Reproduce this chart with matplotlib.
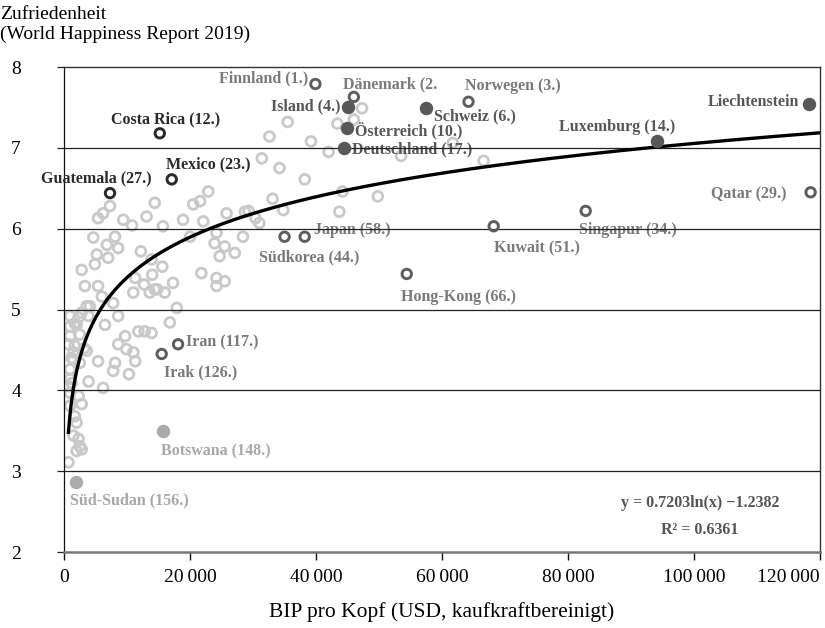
import numpy as np
import matplotlib
matplotlib.use("Agg")
import matplotlib.pyplot as plt
from matplotlib.ticker import FuncFormatter

plt.rcParams['font.family'] = ['Liberation Serif', 'DejaVu Serif']

# unlabelled countries: GDP per capita (USD, PPP) and happiness score
gdp_other = [47300, 35500, 32600, 39200, 42000, 43400, 46000, 31400, 34200, 38200,
             44200, 49800, 33100, 43700, 53500, 61700, 66600,
             25800, 28700, 29300, 31000, 34800, 30400, 22900, 21600, 20500, 18900,
             22100, 20000, 24200, 23900, 25500, 24700, 27100, 28400, 21800, 24200,
             25500, 24200,
             5400, 6200, 7300, 9400, 10800, 13100, 14400, 15700, 4650, 6800, 8100,
             8600, 5200, 4900, 7000, 2800, 12200, 13900, 15600, 14000, 11300, 12700,
             14400, 14800, 13600, 16000, 17300, 11000, 3300, 5400, 6000, 7800, 17900,
             2800, 3600, 4100, 2300, 3900, 6500, 8600, 16800,
             11800, 12800, 13900, 9700, 8600, 9900, 11000, 11300, 8100, 7800, 10300,
             5400, 3900, 6200, 950, 2500, 1700, 3600, 3200, 1200, 2500, 950, 700,
             1200, 950, 1700, 950, 2000, 700, 1500, 1500, 950, 950, 2300, 2800, 950,
             1700, 2000, 1500, 2300, 2500, 2000, 2800, 700]
happy_other = [7.49, 7.32, 7.14, 7.08, 6.95, 7.30, 7.35, 6.87, 6.75, 6.61,
               6.46, 6.40, 6.37, 6.21, 6.90, 7.06, 6.84,
               6.19, 6.21, 6.22, 6.07, 6.23, 6.13, 6.46, 6.34, 6.30, 6.11,
               6.09, 5.90, 5.95, 5.82, 5.78, 5.66, 5.70, 5.90, 5.45, 5.39,
               5.35, 5.29,
               6.13, 6.19, 6.28, 6.11, 6.04, 6.15, 6.32, 6.03, 5.89, 5.80, 5.90,
               5.76, 5.68, 5.56, 5.64, 5.49, 5.72, 5.62, 5.53, 5.43, 5.39, 5.31,
               5.25, 5.25, 5.21, 5.21, 5.33, 5.21, 5.29, 5.29, 5.16, 5.08, 5.02,
               4.96, 5.04, 5.04, 4.90, 4.92, 4.81, 4.92, 4.84,
               4.73, 4.73, 4.71, 4.67, 4.57, 4.51, 4.47, 4.36, 4.34, 4.24, 4.20,
               4.36, 4.11, 4.03, 4.67, 4.69, 4.55, 4.49, 4.52, 4.40, 4.34, 4.26, 4.05,
               4.09, 4.79, 4.83, 4.92, 4.81, 4.57, 4.47, 4.38, 4.14, 3.97, 3.93, 3.83, 3.81,
               3.68, 3.60, 3.44, 3.40, 3.31, 3.25, 3.27, 3.11]

# highlighted countries
names_dark = ["Costa Rica (12.)", "Mexico (23.)", "Guatemala (27.)"]
gdp_dark = [15200, 17100, 7300]
happy_dark = [7.18, 6.61, 6.44]

names_open = ["Finnland (1.)", "Dänemark (2.", "Norwegen (3.)", "Japan (58.)",
              "Südkorea (44.)", "Hong-Kong (66.)", "Kuwait (51.)", "Singapur (34.)",
              "Qatar (29.)", "Iran (117.)", "Irak (126.)"]
gdp_open = [39900, 46000, 64200, 38200, 35000, 54400, 68200, 82800, 118500, 18100, 15500]
happy_open = [7.79, 7.63, 7.57, 5.90, 5.90, 5.44, 6.03, 6.22, 6.45, 4.57, 4.45]

names_filled = ["Island (4.)", "Schweiz (6.)", "Österreich (10.)", "Deutschland (17.)",
                "Luxemburg (14.)", "Liechtenstein"]
gdp_filled = [45000, 57500, 44900, 44500, 94100, 118300]
happy_filled = [7.51, 7.49, 7.25, 7.00, 7.09, 7.54]

names_light = ["Botswana (148.)", "Süd-Sudan (156.)"]
gdp_light = [15700, 1900]
happy_light = [3.50, 2.87]

# logarithmic trend line
coef_a = 0.7203
coef_b = -1.2382
r_squared = 0.6361

# label offsets in pixels (dx, dy, ha)
offsets = {
    "Costa Rica (12.)": (6, 14, "center"),
    "Mexico (23.)": (-6, 15, "left"),
    "Guatemala (27.)": (-14, 15, "center"),
    "Finnland (1.)": (-7, 6, "right"),
    "Dänemark (2.": (-11, 13, "left"),
    "Norwegen (3.)": (-3, 16, "left"),
    "Japan (58.)": (9, 7, "left"),
    "Südkorea (44.)": (-26, -21, "left"),
    "Hong-Kong (66.)": (-6, -23, "left"),
    "Kuwait (51.)": (0, -21, "left"),
    "Singapur (34.)": (-7, -19, "left"),
    "Qatar (29.)": (-24, -2, "right"),
    "Iran (117.)": (8, 2, "left"),
    "Irak (126.)": (2, -18, "left"),
    "Island (4.)": (-7, 0, "right"),
    "Schweiz (6.)": (8, -8, "left"),
    "Österreich (10.)": (8, -3, "left"),
    "Deutschland (17.)": (8, -2, "left"),
    "Luxemburg (14.)": (18, 14, "right"),
    "Liechtenstein": (-10, 2, "right"),
    "Botswana (148.)": (-2, -21, "left"),
    "Süd-Sudan (156.)": (-6, -19, "left"),
}

fig = plt.figure(figsize=(8.25, 6.28), dpi=100)
ax = fig.add_axes([0.0776, 0.121, 0.9164, 0.7723])

ax.set_xlim(0, 120000)
ax.set_ylim(2, 8)

for yv in [3, 4, 5, 6, 7]:
    ax.axhline(yv, color="#222222", lw=0.9, zorder=4)

ax.scatter(gdp_other, happy_other, s=50, facecolors="none", edgecolors="#c9c9c9",
           linewidths=2.0, zorder=2)

x_fit = np.linspace(700, 120000, 600)
ax.plot(x_fit, coef_a * np.log(x_fit) + coef_b, color="black", lw=2.4, zorder=5)

ax.scatter(gdp_dark, happy_dark, s=46, facecolors="none", edgecolors="#2a2a2a",
           linewidths=2.1, zorder=6)
ax.scatter(gdp_open, happy_open, s=46, facecolors="none", edgecolors="#5e5e5e",
           linewidths=2.1, zorder=6)
ax.scatter(gdp_filled, happy_filled, s=75, color="#585858", zorder=6)
ax.scatter(gdp_light, happy_light, s=75, color="#ababab", zorder=6)


def put_labels(names, xs, ys, color):
    for n, xv, yv in zip(names, xs, ys):
        dx, dy, ha = offsets[n]
        ax.annotate(n, (xv, yv), xytext=(dx, dy), textcoords="offset pixels",
                    ha=ha, va="center", fontsize=11.5, fontweight="bold",
                    color=color, zorder=3)


put_labels(names_dark, gdp_dark, happy_dark, "#2a2a2a")
put_labels(names_open, gdp_open, happy_open, "#7a7a7a")
put_labels(names_filled, gdp_filled, happy_filled, "#575757")
put_labels(names_light, gdp_light, happy_light, "#a8a8a8")

ax.text(0.841, 0.101, f"y = {coef_a:.4f}ln(x) \u2212{abs(coef_b):.4f}",
        transform=ax.transAxes, ha="center", va="center", fontsize=11.5,
        fontweight="bold", color="#555555")
ax.text(0.841, 0.045, f"R\u00b2 = {r_squared:.4f}", transform=ax.transAxes,
        ha="center", va="center", fontsize=11.5, fontweight="bold", color="#555555")

ax.spines["top"].set_color("#333333")
ax.spines["top"].set_linewidth(1.0)
ax.spines["right"].set_color("#333333")
ax.spines["right"].set_linewidth(1.0)
ax.spines["left"].set_color("#111111")
ax.spines["left"].set_linewidth(0.9)
ax.spines["bottom"].set_color("#777777")
ax.spines["bottom"].set_linewidth(1.8)

ax.set_yticks([2, 3, 4, 5, 6, 7, 8])
ax.set_xticks([0, 20000, 40000, 60000, 80000, 100000, 120000])
ax.xaxis.set_major_formatter(FuncFormatter(lambda v, p: f"{int(v):,}".replace(",", "\u2009")))
ax.tick_params(axis="y", length=5, width=0.9, color="#222222", pad=26, labelsize=14)
ax.tick_params(axis="x", length=6, width=1.0, color="#111111", pad=6, labelsize=14)
# last x label sits flush with the right frame
ax.get_xticklabels()[-1].set_horizontalalignment("right")

ax.set_xlabel("BIP pro Kopf (USD, kaufkraftbereinigt)", fontsize=15.5, labelpad=12)
fig.text(0.0, 0.99, "Zufriedenheit\n(World Happiness Report 2019)", ha="left", va="top",
         fontsize=14, linespacing=1.2)

fig.savefig("out.png", dpi=100)
